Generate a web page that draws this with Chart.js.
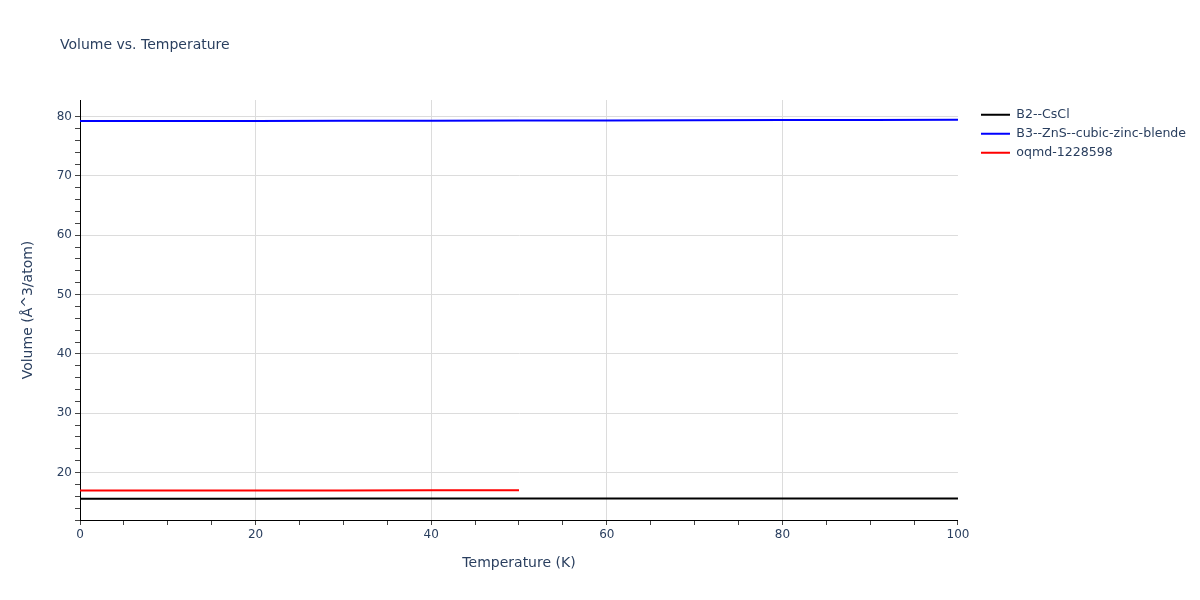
<!DOCTYPE html>
<html>
<head>
<meta charset="utf-8">
<script src="https://cdn.jsdelivr.net/npm/chart.js@4"></script>
<style>
  body { margin: 0; background: #fff; }
</style>
</head>
<body>
<canvas id="grafico" width="1200" height="600"></canvas>
<script>
const TITULO = "Volume vs. Temperature";

const temperaturas = [0, 10, 20, 30, 40, 50, 60, 70, 80, 90, 100];
const volB2 = [15.6, 15.6, 15.6, 15.61, 15.61, 15.61, 15.61, 15.62, 15.62, 15.62, 15.63];
const volB3 = [79.25, 79.27, 79.28, 79.3, 79.32, 79.34, 79.36, 79.38, 79.41, 79.43, 79.45];

const temperaturasOqmd = [0, 10, 20, 30, 40, 50];
const volOqmd = [16.98, 16.98, 16.99, 16.99, 17.0, 17.0];

const COR_TEXTO = "#2a3f5f";
const COR_GRID = "#dcdcdc";
const FONTE = "'DejaVu Sans', sans-serif";

Chart.defaults.font.family = FONTE;
Chart.defaults.font.size = 12;
Chart.defaults.color = COR_TEXTO;

function pontos(xs, ys) {
  return xs.map((x, i) => ({ x: x, y: ys[i] }));
}

function serie(rotulo, dados, cor) {
  return {
    label: rotulo,
    data: dados,
    borderColor: cor,
    backgroundColor: cor,
    borderWidth: 2,
    pointRadius: 0,
    tension: 0,
  };
}

// titulo a esquerda, como no plotly
const tituloPlugin = {
  id: "titulo",
  afterLayout(chart) {
    // afasta a legenda da area do grafico
    chart.legend.left += 16.6;
    chart.legend.right += 16.6;
    chart.legend.top += 2;
    chart.legend.bottom += 2;
  },
  afterDraw(chart) {
    const ctx = chart.ctx;
    ctx.save();
    ctx.font = "14px " + FONTE;
    ctx.fillStyle = COR_TEXTO;
    ctx.textBaseline = "alphabetic";
    ctx.fillText(TITULO, 60, 49);
    ctx.restore();
  },
};

new Chart(document.getElementById("grafico"), {
  type: "line",
  data: {
    datasets: [
      serie("B2--CsCl", pontos(temperaturas, volB2), "#000000"),
      serie("B3--ZnS--cubic-zinc-blende", pontos(temperaturas, volB3), "#0000ff"),
      serie("oqmd-1228598", pontos(temperaturasOqmd, volOqmd), "#ff0000"),
    ],
  },
  plugins: [tituloPlugin],
  options: {
    responsive: false,
    animation: false,
    layout: { padding: { top: 100, right: 20.5, left: 0, bottom: 0 } },
    plugins: {
      title: { display: false },
      tooltip: { enabled: false },
      legend: {
        position: "right",
        align: "start",
        labels: {
          boxWidth: 29,
          boxHeight: 0,
          padding: 6.4,
          color: COR_TEXTO,
          font: { size: 12.6 },
        },
      },
    },
    scales: {
      x: {
        type: "linear",
        min: 0,
        max: 100,
        afterFit: (s) => { s.height = 80; },
        ticks: {
          stepSize: 5,
          autoSkip: false,
          maxRotation: 0,
          color: COR_TEXTO,
          callback: (v) => (v % 20 === 0 ? v : ""),
        },
        grid: {
          color: (c) => (c.tick && c.tick.value % 20 === 0 && c.tick.value > 0 && c.tick.value < 100 ? COR_GRID : "transparent"),
          tickColor: "#444",
          tickLength: 5,
        },
        border: { color: "#000", width: 1 },
        title: {
          display: true,
          text: "Temperature (K)",
          color: COR_TEXTO,
          font: { size: 14 },
          padding: { top: 0, bottom: 28.6 },
        },
      },
      y: {
        min: 12,
        max: 82.8,
        afterFit: (s) => { s.width = 80; },
        ticks: {
          stepSize: 2,
          autoSkip: false,
          color: COR_TEXTO,
          callback: (v) => (v % 10 === 0 ? v : ""),
        },
        grid: {
          color: (c) => (c.tick && c.tick.value % 10 === 0 ? COR_GRID : "transparent"),
          tickColor: (c) => (c.tick && c.tick.value % 2 === 0 ? "#444" : "transparent"),
          tickLength: 5,
        },
        border: { color: "#000", width: 1 },
        title: {
          display: true,
          text: "Volume (Å^3/atom)",
          color: COR_TEXTO,
          font: { size: 14 },
          padding: { top: 19.6, bottom: 0 },
        },
      },
    },
  },
});
</script>
</body>
</html>
